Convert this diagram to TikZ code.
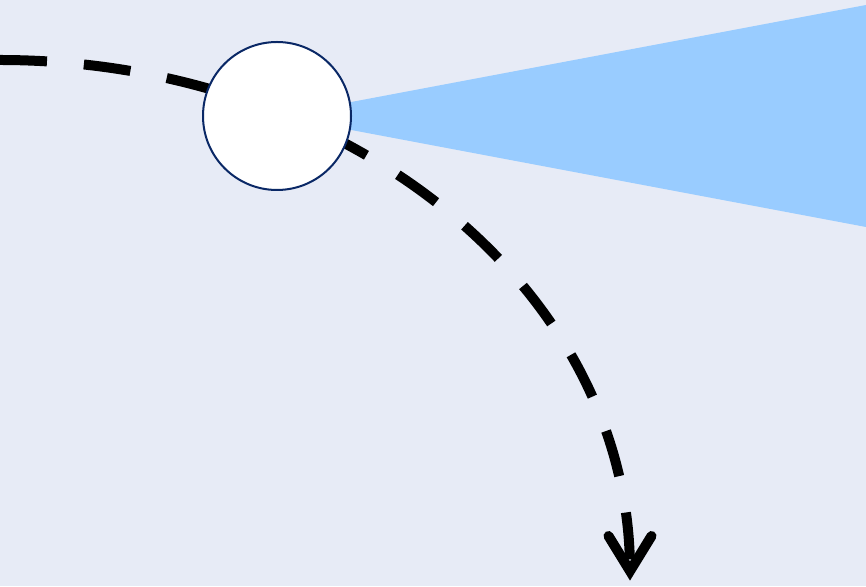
\documentclass[tikz,border=0pt]{standalone}
\usetikzlibrary{calc}
\definecolor{bgc}{RGB}{231,235,246}
\definecolor{wedgec}{RGB}{153,204,255}
\definecolor{ringc}{RGB}{10,40,102}
\tikzset{
  pathline/.style={line width=10pt, draw=black, dash pattern=on 47pt off 37pt, line cap=butt},
  headline/.style={line width=10pt, draw=black, line cap=round, line join=miter, miter limit=10},
  sensor/.style={circle, minimum size=148pt, inner sep=0pt, fill=white, draw=ringc, line width=2pt},
}
\begin{document}
\begin{tikzpicture}[x=1pt,y=1pt]
\useasboundingbox (0,0) rectangle (866,586);
\fill[bgc] (0,0) rectangle (866,586);
\coordinate (ctr) at (277,470);
\coordinate (start) at (0,526);
\coordinate (wtop) at (866,581);
\coordinate (wbot) at (866,359);
% beam
\fill[wedgec] (ctr) -- (wtop) -- (wbot) -- cycle;
% dashed trajectory (quarter ellipse)
\draw[pathline] (start) arc[start angle=90, end angle=0, x radius=630pt, y radius=511pt] coordinate (end);
% arrowhead
\draw[headline] ($(end)+(-21.5,35)$) -- (end) -- ($(end)+(21.5,35)$);
% sensor
\node[sensor] (s) at (ctr) {};
\end{tikzpicture}
\end{document}
